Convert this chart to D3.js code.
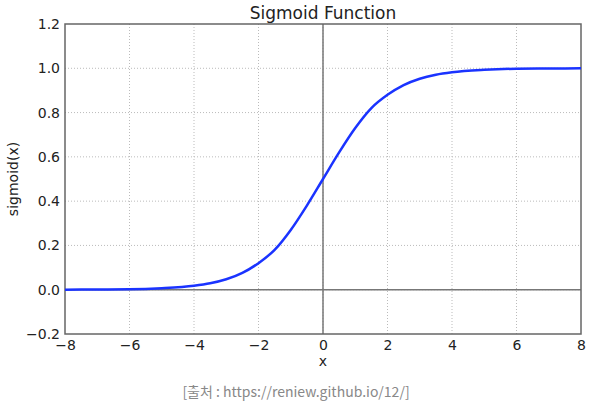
<!DOCTYPE html>
<html>
<head>
<meta charset="utf-8">
<script src="https://cdn.jsdelivr.net/npm/d3@7"></script>
<style>
  body { margin: 0; background: #fff; }
</style>
</head>
<body>
<svg id="chart"></svg>
<script>
// values
const xs = [-8, -7, -6, -5, -4, -3.5, -3, -2.5, -2, -1.5, -1, -0.5, 0, 0.5, 1, 1.5, 2, 2.5, 3, 3.5, 4, 5, 6, 7, 8]
const ys = [0.000, 0.001, 0.002, 0.007, 0.018, 0.029, 0.047, 0.076, 0.12, 0.18, 0.27, 0.38, 0.50, 0.62, 0.73, 0.82, 0.88, 0.924, 0.953, 0.971, 0.982, 0.993, 0.998, 0.999, 1.0]
const xTicks = [-8, -6, -4, -2, 0, 2, 4, 6, 8]
const yTicks = [-0.2, 0.0, 0.2, 0.4, 0.6, 0.8, 1.0, 1.2]
const title = 'Sigmoid Function'
const xLabel = 'x'
const yLabel = 'sigmoid(x)'
const caption = '[출처 : https://reniew.github.io/12/]'

const width = 601
const height = 409
const margin = {top: 24, right: 20, bottom: 75, left: 65}
const font = 'DejaVu Sans, sans-serif'

const svg = d3.select('#chart')
  .attr('width', width)
  .attr('height', height)
  .attr('font-family', font)

const x = d3.scaleLinear().domain([-8, 8]).range([margin.left, width - margin.right])
const y = d3.scaleLinear().domain([-0.2, 1.2]).range([height - margin.bottom, margin.top])

// dotted grid
const grid = svg.append('g')
  .attr('stroke', '#bbb')
  .attr('stroke-width', 1)
  .attr('stroke-dasharray', '1,2')
grid.selectAll('line.v')
  .data(xTicks.slice(1, -1))
  .join('line')
  .attr('class', 'v')
  .attr('x1', (d) => x(d)).attr('x2', (d) => x(d))
  .attr('y1', y(1.2)).attr('y2', y(-0.2))
grid.selectAll('line.h')
  .data(yTicks.slice(1, -1))
  .join('line')
  .attr('class', 'h')
  .attr('x1', x(-8)).attr('x2', x(8))
  .attr('y1', (d) => y(d)).attr('y2', (d) => y(d))

// zero lines
svg.append('line')
  .attr('x1', x(0)).attr('x2', x(0))
  .attr('y1', y(1.2)).attr('y2', y(-0.2))
  .attr('stroke', '#777').attr('stroke-width', 1.5)
svg.append('line')
  .attr('x1', x(-8)).attr('x2', x(8))
  .attr('y1', y(0)).attr('y2', y(0))
  .attr('stroke', '#777').attr('stroke-width', 1.5)

// axes (no tick marks, labels only)
const xAxis = svg.append('g')
  .attr('transform', `translate(0,${y(-0.2)})`)
  .call(d3.axisBottom(x).tickValues(xTicks).tickSize(0).tickPadding(6)
    .tickFormat((d) => d3.format('d')(d).replace('-', '\u2212')))
const yAxis = svg.append('g')
  .attr('transform', `translate(${x(-8)},0)`)
  .call(d3.axisLeft(y).tickValues(yTicks).tickSize(0).tickPadding(5)
    .tickFormat((d) => d3.format('.1f')(d).replace('-', '\u2212')))
for (const g of [xAxis, yAxis]) {
  g.select('.domain').remove()
  g.selectAll('text')
    .attr('font-family', font)
    .attr('font-size', 14)
    .attr('fill', '#222')
}

// frame
svg.append('rect')
  .attr('x', x(-8)).attr('y', y(1.2))
  .attr('width', x(8) - x(-8)).attr('height', y(-0.2) - y(1.2))
  .attr('fill', 'none')
  .attr('stroke', '#666')
  .attr('stroke-width', 1.5)

// curve
const pts = xs.map((d, i) => [d, ys[i]])
svg.append('path')
  .datum(pts)
  .attr('fill', 'none')
  .attr('stroke', '#1a33ff')
  .attr('stroke-width', 2.5)
  .attr('d', d3.line().x((d) => x(d[0])).y((d) => y(d[1])).curve(d3.curveMonotoneX))

// texts
svg.append('text')
  .attr('x', (x(-8) + x(8)) / 2).attr('y', 19)
  .attr('text-anchor', 'middle')
  .attr('font-size', 17)
  .attr('fill', '#222')
  .text(title)
svg.append('text')
  .attr('x', x(0)).attr('y', 366)
  .attr('text-anchor', 'middle')
  .attr('font-size', 14)
  .attr('fill', '#222')
  .text(xLabel)
svg.append('text')
  .attr('transform', `translate(18,${(y(1.2) + y(-0.2)) / 2}) rotate(-90)`)
  .attr('text-anchor', 'middle')
  .attr('font-size', 14)
  .attr('fill', '#222')
  .text(yLabel)
svg.append('text')
  .attr('x', 296).attr('y', 397)
  .attr('text-anchor', 'middle')
  .attr('font-family', 'Noto Sans CJK KR, Noto Sans, sans-serif')
  .attr('font-size', 14)
  .attr('fill', '#888')
  .text(caption)
</script>
</body>
</html>
